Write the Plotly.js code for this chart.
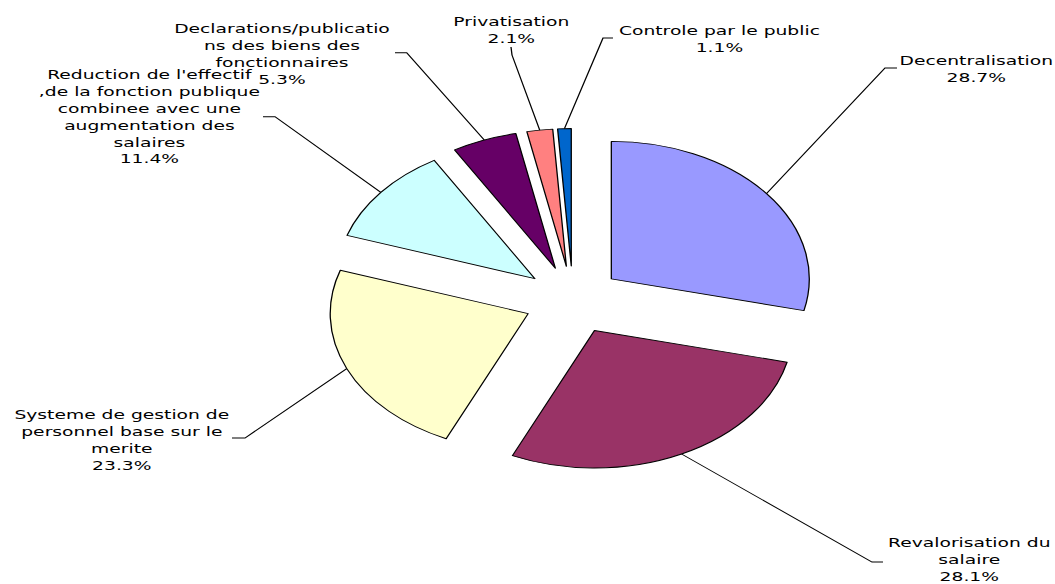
<!DOCTYPE html>
<html>
<head>
<meta charset="utf-8">
<script src="https://cdn.plot.ly/plotly-3.0.1.min.js"></script>
<style>
    html, body { margin: 0; padding: 0; overflow: hidden; background: #fff; }
    /* le graphique d'origine est étiré horizontalement : on dessine à 733 px puis on étire */
    #chart { width: 733px; height: 584px; transform: scaleX(1.43929); transform-origin: 0 0; }
</style>
</head>
<body>
<div id="chart"></div>
<script>
    // Données
    const categories = [
        'Decentralisation',
        'Revalorisation du salaire',
        'Systeme de gestion de personnel base sur le merite',
        "Reduction de l'effectif ,de la fonction publique combinee avec une augmentation des salaires",
        'Declarations/publications des biens des fonctionnaires',
        'Privatisation',
        'Controle par le public'
    ];
    const valeurs = [28.7, 28.1, 23.3, 11.4, 5.3, 2.1, 1.1];
    const couleurs = ['#9999FF', '#993366', '#FFFFCC', '#CCFFFF', '#660066', '#FF8080', '#0066CC'];
    // découpage des étiquettes comme dans l'original
    const etiquettes = [
        'Decentralisation',
        'Revalorisation du<br>salaire',
        'Systeme de gestion de<br>personnel base sur le<br>merite',
        "Reduction de l'effectif<br>,de la fonction publique<br>combinee avec une<br>augmentation des<br>salaires",
        'Declarations/publicatio<br>ns des biens des<br>fonctionnaires',
        'Privatisation',
        'Controle par le public'
    ];

    const ETIRE = 1055 / 733;
    const W = 733, H = 584;

    // position des étiquettes (pixels de l'image finale)
    const posEtiquettes = [[977, 68.5], [970, 559.5], [121, 440], [150, 116.7], [282, 54], [512, 30], [720, 38.5]];
    // début du trait de rappel et coude
    const traits = [
        [[897, 68], [885, 68]],
        [[883, 562], [872, 562]],
        [[232, 438], [245, 438]],
        [[263, 116.7], [275, 116.7]],
        [[395, 52.7], [406.7, 52.7]],
        [[511, 47], [512, 55]],
        [[613, 38], [603, 38]]
    ];

    const tirage = 0.247;

    const data = [{
        type: 'pie',
        labels: categories,
        values: valeurs,
        sort: false,
        direction: 'clockwise',
        rotation: 0,
        pull: tirage,
        textinfo: 'none',
        hoverinfo: 'none',
        marker: { colors: couleurs, line: { color: '#000000', width: 0.9 } },
        domain: { x: [0.2831, 0.8031], y: [0.19264, 0.77997] }
    }];

    const annotations = etiquettes.map(function(txt, i) {
        return {
            xref: 'paper', yref: 'paper',
            x: posEtiquettes[i][0] / ETIRE / W,
            y: 1 - posEtiquettes[i][1] / H,
            xanchor: 'center', yanchor: 'middle',
            align: 'center',
            showarrow: false,
            text: txt + '<br>' + valeurs[i].toFixed(1) + '%',
            font: { family: 'DejaVu Sans, Verdana, sans-serif', size: 13, color: '#000000' }
        };
    });

    const layout = {
        width: W,
        height: H,
        margin: { l: 0, r: 0, t: 0, b: 0 },
        paper_bgcolor: '#ffffff',
        showlegend: false,
        annotations: annotations
    };

    const gd = document.getElementById('chart');
    Plotly.newPlot(gd, data, layout, { staticPlot: true, displayModeBar: false }).then(function() {
        // traits de rappel : vers le milieu de l'arc de chaque part, calculé par Plotly
        const cd = gd.calcdata[0];
        const cx = cd[0].cx, cy = cd[0].cy;
        const shapes = cd.map(function(pt, i) {
            const px = cx + pt.pxmid[0] * (1 + tirage);
            const py = cy + pt.pxmid[1] * (1 + tirage);
            const a = traits[i][0], b = traits[i][1];
            const path = 'M ' + (a[0] / ETIRE / W) + ' ' + (1 - a[1] / H) +
                ' L ' + (b[0] / ETIRE / W) + ' ' + (1 - b[1] / H) +
                ' L ' + (px / W) + ' ' + (1 - py / H);
            return {
                type: 'path', xref: 'paper', yref: 'paper',
                path: path,
                line: { color: '#000000', width: 0.9 }
            };
        });
        return Plotly.relayout(gd, { shapes: shapes });
    });
</script>
</body>
</html>
